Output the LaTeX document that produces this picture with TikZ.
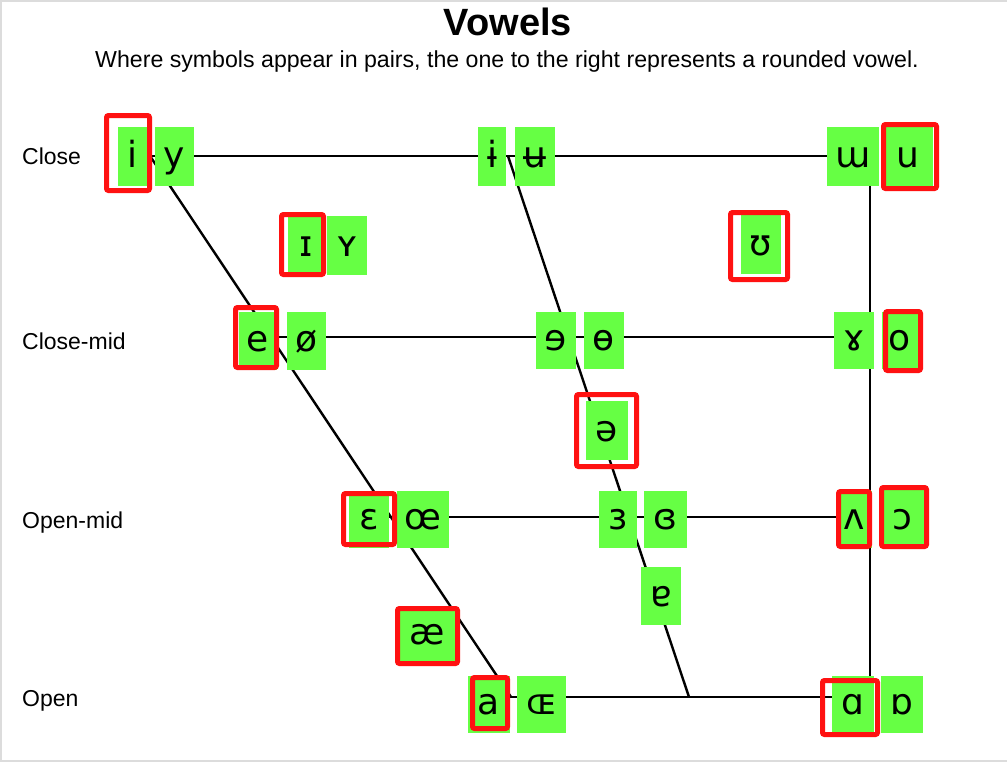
\documentclass[tikz,border=0pt]{standalone}
\usepackage{fontspec}
\setmainfont{Liberation Sans}
\newfontfamily\ipafont{DejaVu Sans}
\usetikzlibrary{backgrounds}
\definecolor{symgreen}{RGB}{102,255,68}
\definecolor{pickred}{RGB}{255,17,17}
\definecolor{framegray}{RGB}{220,220,220}
\tikzset{
  sym/.style={fill=symgreen, inner sep=0pt, text depth=19pt, font=\ipafont\fontsize{36}{40}\selectfont},
  pick/.style={draw=pickred, line width=5pt, rounded corners=2pt},
  rowlabel/.style={anchor=base west, inner sep=0pt, font=\fontsize{23}{26}\selectfont},
  chartline/.style={line width=2.4pt}
}
\begin{document}
\begin{tikzpicture}[x=1pt, y=-1pt]
\useasboundingbox (0,0) rectangle (1007,763);
\draw [framegray, line width=1.5pt] (1007,0.75) -- (0.75,0.75) -- (0.75,761) -- (1007,761);
\node [anchor=base, font=\bfseries\fontsize{38}{42}\selectfont] (title) at (508,35) {Vowels};
\node [anchor=base, font=\fontsize{23.15}{27}\selectfont] (subtitle) at (507,67)
  {Where symbols appear in pairs, the one to the right represents a rounded vowel.};
\node [rowlabel] (close) at (22,164) {Close};
\node [rowlabel] (closemid) at (22,349) {Close-mid};
\node [rowlabel] (openmid) at (22,528) {Open-mid};
\node [rowlabel] (open) at (22,706) {Open};
% vowel boxes: name/left/right/top/bottom/symbol
\foreach \n/\xa/\xb/\ya/\yb/\g in {
    i/118/148/127/186/i, y/155/194/127/186/y, ibar/478/506/127/186/ɨ,
    ubar/515/555/127/186/ʉ, mturn/827/879/127/186/ɯ, u/882/933/127/186/u,
    Icap/288/325/216/275/ɪ, Ycap/327/367/216/275/ʏ, upsilon/741/781/215/274/ʊ,
    e/239/277/312/370/e, oslash/287/326/312/370/ø, erev/536/576/312/369/ɘ,
    obar/584/624/312/369/ɵ, ramshorn/834/874/312/369/ɤ, o/882/918/312/369/o,
    schwa/586/628/401/460/ə,
    eps/349/389/491/548/ɛ, oe/397/449/491/548/œ, epsrev/599/637/491/548/ɜ,
    epsclosed/644/687/491/548/ɞ, vturn/837/872/491/548/ʌ, oopen/880/925/490/548/ɔ,
    ae/397/457/607/663/æ, aturn/641/681/567/625/ɐ,
    a/468/510/676/733/a, OEcap/517/566/676/733/ɶ, alpha/832/874/676/733/ɑ,
    alphaturn/881/923/676/733/ɒ} {
  \pgfmathsetmacro\cx{(\xa+\xb)/2}
  \pgfmathsetmacro\cy{(\ya+\yb)/2}
  \pgfmathsetmacro\w{\xb-\xa}
  \pgfmathsetmacro\h{\yb-\ya-19}
  \node [sym, minimum width=\w pt, text height=\h pt] (\n) at (\cx,\cy) {\g};
}
% corners of the chart
\coordinate (cf) at (150,156);
\coordinate (cc) at (508,156);
\coordinate (cb) at (870,156);
\coordinate (mb) at (870,337);
\coordinate (ub) at (870,517);
\coordinate (of) at (511,697);
\coordinate (oc) at (689,697);
\coordinate (ob) at (870,697);
\begin{pgfonlayer}{background}
\draw [chartline] (i |- cb) -- (cb) -- (ob) -- (a |- ob);
\draw [chartline] (e |- mb) -- (mb);
\draw [chartline] (eps |- ub) -- (ub);
\draw [chartline] (cf) -- (of);
\draw [chartline] (cc) -- (oc);
\end{pgfonlayer}
% highlighted vowels
\foreach \xa/\xb/\ya/\yb in {104/152/113/193, 881/939/122/191, 279/326/212/277,
    728/790/210/282, 233/279/305/370, 883/923/309/373, 574/639/392/469,
    341/397/491/547, 836/872/489/549, 879/929/485/549, 395/460/606/666,
    470/510/675/731, 820/880/678/737}
  \draw [pick] (\xa+2.5,\ya+2.5) rectangle (\xb-2.5,\yb-2.5);
\end{tikzpicture}
\end{document}
